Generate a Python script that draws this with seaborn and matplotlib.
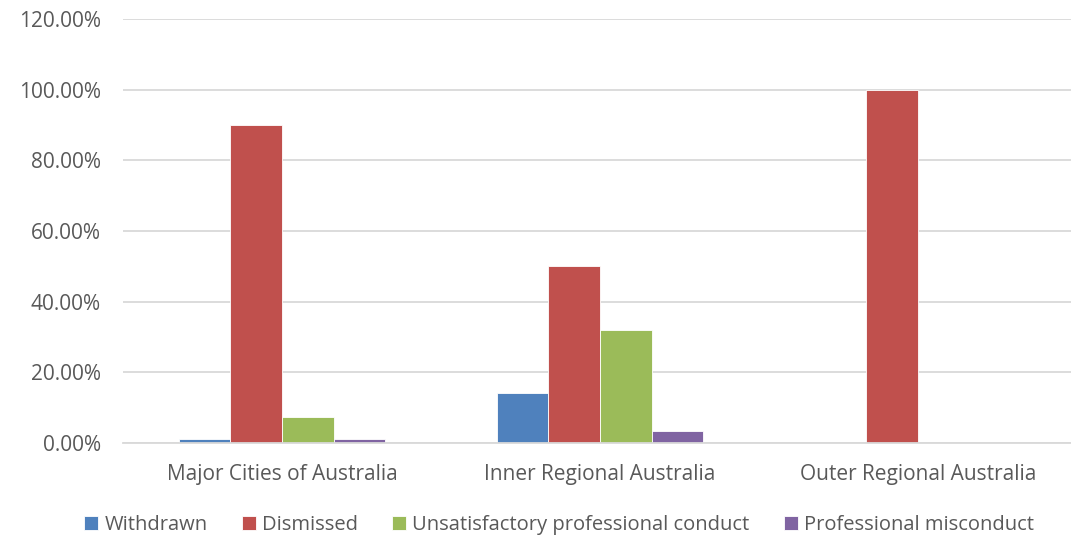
import matplotlib
matplotlib.use("Agg")
import matplotlib.pyplot as plt
import seaborn as sns
import pandas as pd
from matplotlib.ticker import FuncFormatter

regions = ["Major Cities of Australia", "Inner Regional Australia", "Outer Regional Australia"]
outcomes = ["Withdrawn", "Dismissed", "Unsatisfactory professional conduct", "Professional misconduct"]
withdrawn = [0.0125, 0.142, 0.0]
dismissed = [0.90, 0.50, 1.00]
unsatisfactory = [0.074, 0.32, 0.0]
misconduct = [0.0125, 0.033, 0.0]
colors = ["#4F81BD", "#C0504D", "#9BBB59", "#8064A2"]

rows = []
for outcome, vals in zip(outcomes, [withdrawn, dismissed, unsatisfactory, misconduct]):
    for region, v in zip(regions, vals):
        rows.append({"region": region, "outcome": outcome, "share": v})
df = pd.DataFrame(rows)

sns.set_theme(style="white")
plt.rcParams["font.family"] = ["Open Sans", "DejaVu Sans"]

fig = plt.figure(figsize=(10.71, 5.42), dpi=100)
ax = fig.add_axes([123 / 1071, 1 - 443 / 542, (1077 - 123) / 1071, (443 - 19) / 542])

sns.barplot(data=df, x="region", y="share", hue="outcome", order=regions,
            hue_order=outcomes, palette=colors, saturation=1, width=0.65, gap=0,
            edgecolor="white", linewidth=0.6, ax=ax, legend=True)

ax.set_ylim(0, 1.2)
ax.set_xlim(-0.5, 2.5)
ax.set_yticks([0, 0.2, 0.4, 0.6, 0.8, 1.0, 1.2])
ax.yaxis.set_major_formatter(FuncFormatter(lambda v, p: f"{v * 100:.2f}%"))
ax.grid(axis="y", color="#D9D9D9", linewidth=1.3)
ax.set_axisbelow(True)
for s in ["top", "right", "left"]:
    ax.spines[s].set_visible(False)
ax.spines["bottom"].set_color("#D9D9D9")
ax.spines["bottom"].set_linewidth(1.3)
ax.set_xlabel("")
ax.set_ylabel("")
ax.tick_params(axis="both", length=0, labelsize=15, colors="#595959")
ax.tick_params(axis="x", pad=15)
ax.tick_params(axis="y", pad=16)

handles, labels = ax.get_legend_handles_labels()
ax.legend_.remove()
fig.legend(handles, labels, loc="center", bbox_to_anchor=(559 / 1071, 1 - 525 / 542),
           ncol=4, frameon=False, fontsize=14.5, handlelength=0.7, handleheight=0.7,
           handletextpad=0.3, columnspacing=1.7, labelcolor="#595959")

fig.savefig("out.png", dpi=100)
